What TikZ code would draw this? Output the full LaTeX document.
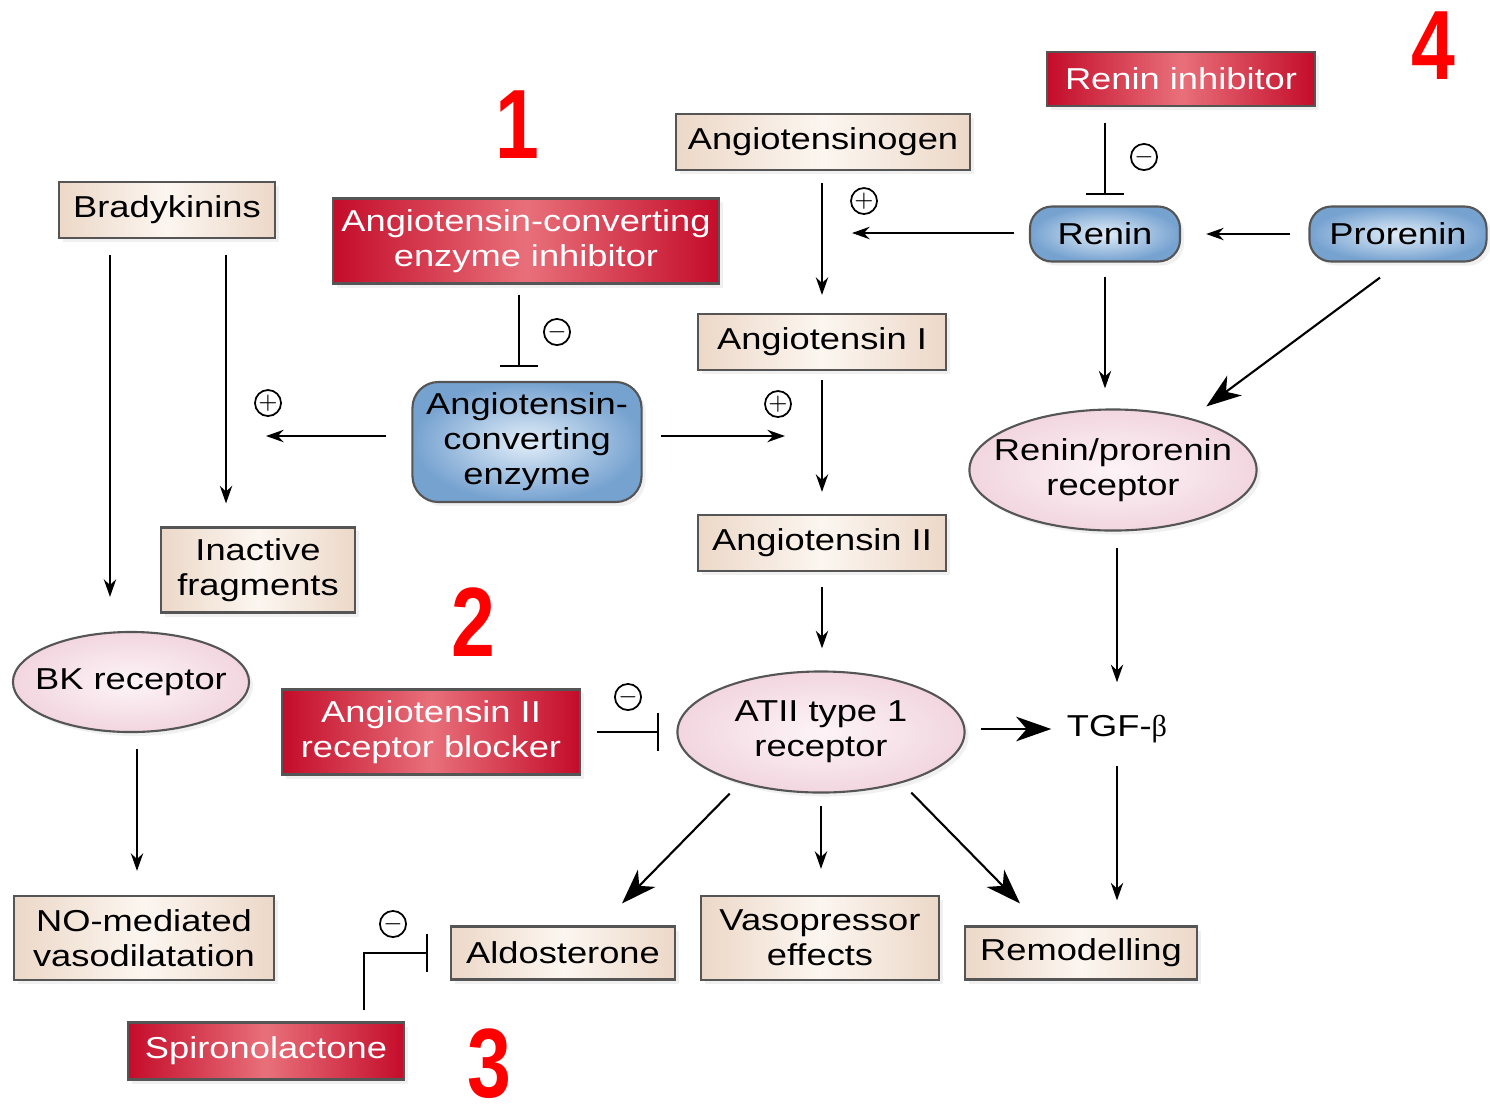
\documentclass[tikz,border=0pt]{standalone}
\usepackage{fontspec}
\setmainfont{Liberation Sans}[FakeStretch=1.2]
\newfontfamily\numfont{Liberation Sans}[FakeStretch=0.8]
\newfontfamily\grkfont{Liberation Serif}
\usetikzlibrary{shapes.geometric, arrows.meta, calc, shadows}

\definecolor{tanbox}{RGB}{236,216,200}
\definecolor{tanlight}{RGB}{252,246,240}
\definecolor{drugred}{RGB}{196,12,42}
\definecolor{druglight}{RGB}{232,112,122}
\definecolor{enzblue}{RGB}{118,162,208}
\definecolor{enzlight}{RGB}{226,238,249}
\definecolor{recpink}{RGB}{242,214,223}
\definecolor{reclight}{RGB}{253,244,247}
\definecolor{boxline}{RGB}{85,85,85}

\begin{document}
\begin{tikzpicture}[
    x=0.01cm, y=-0.01cm,
    font=\fontsize{8.6}{10}\selectfont,
    % Styles
    substance/.style={ % Tan boxes
        rectangle,
        draw=boxline,
        line width=0.6pt,
        left color=tanbox, right color=tanbox, middle color=tanlight,
        align=center,
        inner sep=1pt,
        drop shadow={opacity=0.12, shadow xshift=0.04cm, shadow yshift=-0.04cm}
    },
    drug/.style={ % Red inhibitor boxes
        rectangle,
        draw=boxline,
        line width=0.6pt,
        left color=drugred, right color=drugred, middle color=druglight,
        text=white,
        align=center,
        inner sep=1pt,
        drop shadow={opacity=0.12, shadow xshift=0.04cm, shadow yshift=-0.04cm}
    },
    enzyme/.style={ % Blue rounded boxes
        rectangle,
        rounded corners=0.22cm,
        draw=boxline,
        line width=0.6pt,
        inner color=enzlight, outer color=enzblue,
        align=center,
        inner sep=1pt,
        drop shadow={opacity=0.12, shadow xshift=0.04cm, shadow yshift=-0.04cm}
    },
    receptor/.style={ % Pink ellipses
        ellipse,
        draw=boxline,
        line width=0.6pt,
        inner color=reclight, outer color=recpink,
        align=center,
        inner xsep=-0.3cm, inner ysep=0pt,
        drop shadow={opacity=0.12, shadow xshift=0.04cm, shadow yshift=-0.04cm}
    },
    sign/.style={ % Plus and minus circles
        circle,
        draw,
        line width=0.5pt,
        inner sep=0pt,
        minimum size=0.26cm,
        font=\fontsize{6.5}{6.5}\selectfont
    },
    num/.style={
        text=red,
        inner sep=0pt,
        font=\numfont\bfseries\fontsize{28}{28}\selectfont
    },
    arrow/.style={
        -{Stealth[length=5pt, width=3.5pt]},
        line width=0.6pt
    },
    bigarrow/.style={ % Larger heads
        -{Stealth[length=10pt, width=7pt, inset=3pt]},
        line width=0.6pt
    },
    inhibit/.style={
        -{Bar[width=11pt]},
        line width=0.6pt
    }
]
    \useasboundingbox (0,0) rectangle (1490,1111);

    % Top row
    \node[drug, minimum width=2.67cm, minimum height=0.54cm] (reninh) at (1181,79) {Renin inhibitor};
    \node[substance, minimum width=2.94cm, minimum height=0.56cm] (agen) at (823,142) {Angiotensinogen};
    \node[substance, minimum width=2.15cm, minimum height=0.56cm] (brady) at (167,210) {Bradykinins};
    \node[drug, minimum width=3.86cm, minimum height=0.85cm] (acei) at (526,241) {Angiotensin-converting\\enzyme inhibitor};
    \node[enzyme, minimum width=1.50cm, minimum height=0.55cm] (renin) at (1105,234) {Renin};
    \node[enzyme, minimum width=1.77cm, minimum height=0.55cm] (prorenin) at (1398,234) {Prorenin};

    % Middle
    \node[substance, minimum width=2.47cm, minimum height=0.56cm] (ang1) at (822,342) {Angiotensin I};
    \node[enzyme, rounded corners=0.26cm, minimum width=2.29cm, minimum height=1.20cm] (ace) at (527,442) {Angiotensin-\\converting\\enzyme};
    \node[substance, minimum width=1.94cm, minimum height=0.85cm] (frag) at (258,570) {Inactive\\fragments};
    \node[substance, minimum width=2.47cm, minimum height=0.56cm] (ang2) at (822,543) {Angiotensin II};
    \node[receptor, minimum width=2.87cm, minimum height=1.21cm] (rpr) at (1113,470) {Renin/prorenin\\receptor};

    % Receptors
    \node[receptor, minimum width=2.36cm, minimum height=1.00cm] (bkr) at (131,682) {BK receptor};
    \node[drug, minimum width=2.97cm, minimum height=0.85cm] (arb) at (431,732) {Angiotensin II\\receptor blocker};
    \node[receptor, minimum width=2.87cm, minimum height=1.21cm] (at1r) at (821,732) {ATII type 1\\receptor};
    \node[inner sep=0.05cm, minimum height=0.5cm] (tgf) at (1117,729) {TGF-{\grkfont β}};

    % Effects
    \node[substance, minimum width=2.59cm, minimum height=0.84cm] (no) at (144,938) {NO-mediated\\vasodilatation};
    \node[substance, minimum width=2.24cm, minimum height=0.53cm] (aldo) at (563,953) {Aldosterone};
    \node[substance, minimum width=2.37cm, minimum height=0.84cm] (vaso) at (820,938) {Vasopressor\\effects};
    \node[substance, minimum width=2.31cm, minimum height=0.53cm] (remod) at (1081,953) {Remodelling};
    \node[drug, minimum width=2.76cm, minimum height=0.57cm] (spiro) at (266,1051) {Spironolactone};

    % Numbers
    \node[num] (n1) at (517,125) {1};
    \node[num] (n2) at (473,622) {2};
    \node[num] (n3) at (489,1064) {3};
    \node[num] (n4) at (1433,46) {4};

    % Plus and minus signs
    \node[sign] (minusrenin) at (1144,157) {$-$};
    \node[sign] (minusace) at (557,332) {$-$};
    \node[sign] (minusat1) at (628,697) {$-$};
    \node[sign] (minusaldo) at (393,924) {$-$};
    \node[sign] (plusagen) at (864,201) {$+$};
    \node[sign] (plusbrady) at (268,403) {$+$};
    \node[sign] (plusang) at (778,404) {$+$};

    % Free ends
    \coordinate (reninhit) at (852,233);
    \coordinate (bradyhit) at (266,436);
    \coordinate (anghit) at (785,436);

    % Angiotensin chain
    \draw[arrow, shorten <=0.12cm, shorten >=0.18cm] (ang1.north |- agen.south) -- (ang1.north);
    \draw[arrow, shorten <=0.09cm, shorten >=0.22cm] (ang1.south) -- (ang2.north);
    \draw[arrow, shorten <=0.15cm, shorten >=0.22cm] (ang2.south) -- (ang2.south |- at1r.north);

    % Renin side
    \draw[inhibit, shorten <=0.16cm, shorten >=0.10cm] (reninh.south -| renin.north) -- (renin.north);
    \draw[arrow, shorten <=0.15cm] (reninhit -| renin.west) -- (reninhit);
    \draw[arrow, shorten <=0.18cm, shorten >=0.25cm] (prorenin.west) -- (renin.east);
    \draw[arrow, shorten <=0.14cm, shorten >=0.20cm] (renin.south) -- (rpr.north -| renin.south);
    \draw[bigarrow] ([shift={(-18,15)}]prorenin.south) -- ([shift={(-9,-20)}]rpr.north east);
    \draw[arrow, shorten <=0.16cm, shorten >=0.21cm] (rpr.south -| tgf.north) -- (tgf.north);

    % ACE
    \draw[inhibit, shorten <=0.10cm, shorten >=0.14cm] ([xshift=-0.07cm]acei.south) -- ([xshift=-0.08cm]ace.north);
    \draw[arrow, shorten <=0.25cm] (ace.west |- bradyhit) -- (bradyhit);
    \draw[arrow, shorten <=0.18cm] (ace.east |- anghit) -- (anghit);

    % Bradykinins
    \draw[arrow, shorten <=0.16cm, shorten >=0.34cm] ([xshift=-0.57cm]brady.south) -- ([xshift=-0.57cm]brady.south |- bkr.north);
    \draw[arrow, shorten <=0.16cm, shorten >=0.23cm] ([xshift=0.59cm]brady.south) -- ([xshift=0.59cm]brady.south |- frag.north);
    \draw[arrow, shorten <=0.16cm, shorten >=0.24cm] ([xshift=0.06cm]bkr.south) -- ([xshift=0.06cm]bkr.south |- no.north);

    % ATII type 1 receptor
    \draw[inhibit, shorten <=0.16cm, shorten >=0.17cm] (arb.east) -- (arb.east -| at1r.west);
    \draw[bigarrow, shorten <=0.15cm, shorten >=0.10cm] (tgf.west -| at1r.east) -- (tgf.west);
    \draw[bigarrow] ([shift={(11,18)}]at1r.south west) -- ([shift={(59,-22)}]aldo.north);
    \draw[arrow, shorten <=0.12cm, shorten >=0.26cm] (at1r.south) -- (at1r.south |- vaso.north);
    \draw[bigarrow] ([shift={(-12,17)}]at1r.south east) -- ([shift={(-61,-22)}]remod.north);
    \draw[arrow, shorten <=0.11cm, shorten >=0.25cm] (tgf.south) -- (tgf.south |- remod.north);

    % Spironolactone
    \draw[inhibit, shorten <=0.11cm, shorten >=0.22cm] ([xshift=0.98cm]spiro.north) |- (aldo.west);
\end{tikzpicture}
\end{document}
